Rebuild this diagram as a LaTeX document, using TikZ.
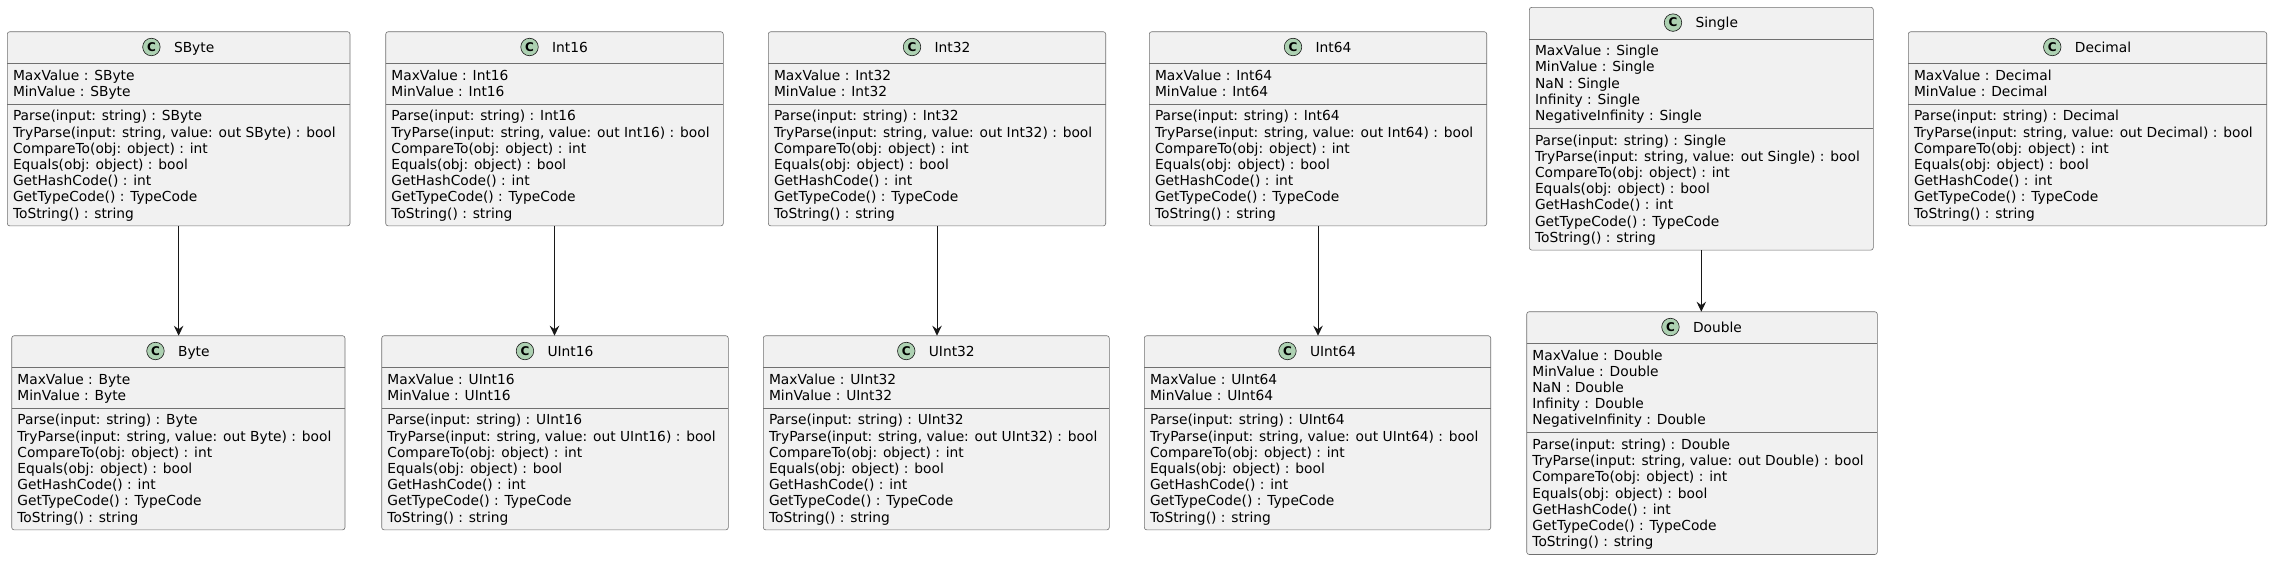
\documentclass[tikz,border=0pt]{standalone}
\usepackage{fontspec}
\setmainfont{DejaVu Sans}
\usetikzlibrary{arrows.meta}
\definecolor{boxfill}{HTML}{F1F1F1}
\definecolor{boxline}{HTML}{181818}
\definecolor{boxedge}{HTML}{707070}
\definecolor{spotfill}{HTML}{ADD1B2}
\tikzset{
  classbox/.style={draw=boxedge, fill=boxfill, line width=0.6pt, rounded corners=2.5pt, inner sep=0pt, outer sep=0pt},
  sepline/.style={draw=boxedge, line width=0.6pt},
  titletext/.style={inner sep=0pt, font=\fontsize{13.8}{16}\selectfont},
  mtext/.style={inner sep=0pt, anchor=base west, font=\fontsize{13.8}{16}\selectfont},
  spot/.style={circle, draw=boxline, fill=spotfill, line width=0.6pt, minimum size=17.5pt, inner sep=0pt, font=\bfseries\fontsize{12}{12}\selectfont},
  arr/.style={draw=boxline, line width=1pt, -{Stealth[length=10pt, width=9.5pt, inset=3.5pt]}},
}
\newcommand\umlclass[7]{%
  \pgfmathsetmacro\ucsepA{#4+31.6}%
  \pgfmathsetmacro\ucsepB{\ucsepA+#6*16.2+8.4}%
  \pgfmathsetmacro\ucbot{\ucsepB+7*16.2+8.4}%
  \pgfmathsetmacro\uccx{(#2+#3)/2}%
  \pgfmathsetmacro\ucw{#3-#2}%
  \pgfmathsetmacro\uch{\ucbot-#4}%
  \node[classbox, anchor=north west, minimum width=\ucw pt, minimum height=\uch pt] (#1) at (#2,#4) {};
  \draw[sepline] (#2,\ucsepA) -- (#3,\ucsepA);
  \draw[sepline] (#2,\ucsepB) -- (#3,\ucsepB);
  \node[titletext, anchor=base] (#1-title) at ({\uccx+15.5},{#4+20.3}) {#5};
  \node[spot] (#1-spot) at ([xshift=-22.4pt,yshift=5pt]#1-title.base west) {C};
  \foreach \a [count=\i] in {#7} {
    \node[mtext] at ({#2+5.5},{\ucsepA+16.8+(\i-1)*16.2}) {\a{} : #5};
  }
  \foreach \m [count=\i] in {{Parse(input: string) : #5}, {TryParse(input: string, value: out #5) : bool}, {CompareTo(obj: object) : int}, {Equals(obj: object) : bool}, {GetHashCode() : int}, {GetTypeCode() : TypeCode}, {ToString() : string}} {
    \node[mtext] at ({#2+5.5},{\ucsepB+16.8+(\i-1)*16.2}) {\m};
  }
}
\begin{document}
\begin{tikzpicture}[x=1pt,y=-1pt]
\useasboundingbox (0,0) rectangle (2272,560);
\umlclass{sbyte}{7.3}{350}{31.7}{SByte}{2}{MaxValue,MinValue}
\umlclass{byte}{11.7}{345}{335.7}{Byte}{2}{MaxValue,MinValue}
\umlclass{int16}{385.7}{723.3}{31.7}{Int16}{2}{MaxValue,MinValue}
\umlclass{uint16}{381.7}{728.3}{335.7}{UInt16}{2}{MaxValue,MinValue}
\umlclass{int32}{768.3}{1105.7}{31.7}{Int32}{2}{MaxValue,MinValue}
\umlclass{uint32}{763.3}{1109.3}{335.7}{UInt32}{2}{MaxValue,MinValue}
\umlclass{int64}{1149.3}{1486.7}{31.7}{Int64}{2}{MaxValue,MinValue}
\umlclass{uint64}{1144.3}{1490.7}{335.7}{UInt64}{2}{MaxValue,MinValue}
\umlclass{single}{1529.3}{1873.3}{7.3}{Single}{5}{MaxValue,MinValue,NaN,Infinity,NegativeInfinity}
\umlclass{double}{1526.7}{1877.3}{311.7}{Double}{5}{MaxValue,MinValue,NaN,Infinity,NegativeInfinity}
\umlclass{decimal}{1908.3}{2266.7}{31.7}{Decimal}{2}{MaxValue,MinValue}
\draw[arr] (sbyte.south) -- (sbyte.south |- byte.north);
\draw[arr] (int16.south) -- (int16.south |- uint16.north);
\draw[arr] (int32.south) -- (int32.south |- uint32.north);
\draw[arr] (int64.south) -- (int64.south |- uint64.north);
\draw[arr] (single.south) -- (single.south |- double.north);
\end{tikzpicture}
\end{document}
